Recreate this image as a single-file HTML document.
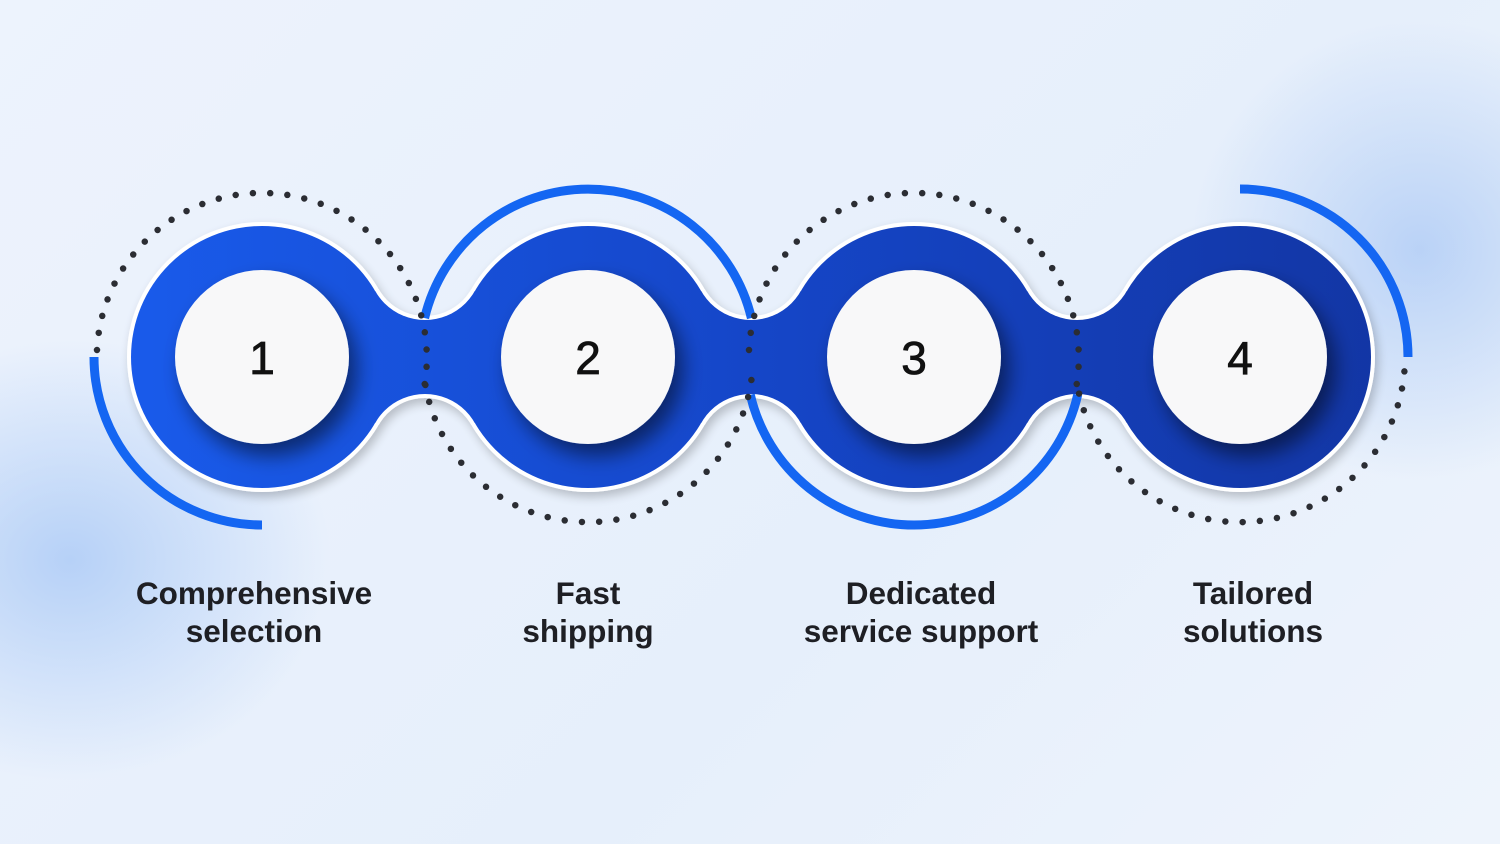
<!DOCTYPE html>
<html><head><meta charset="utf-8"><style>
html,body{margin:0;padding:0}
body{width:1500px;height:844px;overflow:hidden;background:#eaf2fc;position:relative;font-family:"Liberation Sans",sans-serif}
.bg{position:absolute;inset:0;background:
radial-gradient(ellipse 260px 220px at 70px 560px,rgba(160,195,245,.7),rgba(160,195,245,0)),
radial-gradient(ellipse 230px 230px at 1420px 250px,rgba(170,200,245,.75),rgba(170,200,245,0)),
linear-gradient(135deg,#edf3fd,#e6effb 60%,#eef4fc)}
.lbl{position:absolute;width:340px;margin-left:-170px;text-align:center;font-weight:bold;font-size:31.5px;line-height:38px;color:#1e1f24;top:574px}
</style></head><body>
<div class="bg"></div>
<svg width="1500" height="844" style="position:absolute;left:0;top:0">
<defs>
<linearGradient id="bl" x1="0" x2="1" y1="0" y2="0">
<stop offset="0" stop-color="#1a5ff2"/><stop offset="0.5" stop-color="#1546c8"/><stop offset="1" stop-color="#12339e"/>
</linearGradient>
<mask id="mw"><rect width="1500" height="844" fill="black"/>
<g fill="white"><circle cx="262" cy="357" r="135"/><circle cx="588" cy="357" r="135"/><circle cx="914" cy="357" r="135"/><circle cx="1240" cy="357" r="135"/><rect x="262" y="289" width="978" height="136"/></g>
<g fill="black">
<circle cx="425" cy="262.7" r="53.3"/><circle cx="425" cy="451.3" r="53.3"/>
<circle cx="751" cy="262.7" r="53.3"/><circle cx="751" cy="451.3" r="53.3"/>
<circle cx="1077" cy="262.7" r="53.3"/><circle cx="1077" cy="451.3" r="53.3"/></g></mask>
<mask id="mb"><rect width="1500" height="844" fill="black"/>
<g fill="white"><circle cx="262" cy="357" r="131"/><circle cx="588" cy="357" r="131"/><circle cx="914" cy="357" r="131"/><circle cx="1240" cy="357" r="131"/><rect x="262" y="291" width="978" height="132"/></g>
<g fill="black">
<circle cx="425" cy="262.7" r="57.3"/><circle cx="425" cy="451.3" r="57.3"/>
<circle cx="751" cy="262.7" r="57.3"/><circle cx="751" cy="451.3" r="57.3"/>
<circle cx="1077" cy="262.7" r="57.3"/><circle cx="1077" cy="451.3" r="57.3"/></g></mask>
<filter id="ds" x="-30%" y="-30%" width="160%" height="160%"><feGaussianBlur in="SourceAlpha" stdDeviation="5"/><feOffset dx="3" dy="5"/><feComponentTransfer><feFuncA type="linear" slope="0.22"/></feComponentTransfer><feMerge><feMergeNode/><feMergeNode in="SourceGraphic"/></feMerge></filter>
<filter id="ds2" x="-40%" y="-40%" width="180%" height="180%"><feGaussianBlur in="SourceAlpha" stdDeviation="10"/><feOffset dx="8" dy="12"/><feComponentTransfer><feFuncA type="linear" slope="0.5"/></feComponentTransfer><feMerge><feMergeNode/><feMergeNode in="SourceGraphic"/></feMerge></filter>
</defs>
<g filter="url(#ds)"><rect width="1500" height="844" fill="#ffffff" mask="url(#mw)"/></g>
<rect width="1500" height="844" fill="url(#bl)" mask="url(#mb)"/>
<g fill="#f8f8f9" filter="url(#ds2)"><circle cx="262" cy="357" r="87"/><circle cx="588" cy="357" r="87"/><circle cx="914" cy="357" r="87"/><circle cx="1240" cy="357" r="87"/></g>
<g fill="none" stroke="#1466f2" stroke-width="9">
<path d="M94 357 A168 168 0 0 0 262 525"/>
<path d="M424.6 318.1 A168 168 0 0 1 751.4 318.1"/>
<path d="M750.3 394.8 A168 168 0 0 0 1077.7 394.8"/>
<path d="M1240 189 A168 168 0 0 1 1408 357"/>
</g>
<g fill="none" stroke="#2b2d33" stroke-width="6.5" stroke-linecap="round" stroke-dasharray="0 17.3">
<path d="M97 350 A165 165 0 1 1 423.4 391.3"/>
<path d="M751.4 380 A165 165 0 0 1 424.6 380"/>
<path d="M749 350 A165 165 0 1 1 1075.4 391.3"/>
<path d="M1404.4 371.4 A165 165 0 0 1 1078.6 391.3"/>
</g>
<g font-family="Liberation Sans, sans-serif" font-size="46" fill="#111" stroke="#111" stroke-width="0.8" text-anchor="middle">
<text x="262" y="374">1</text><text x="588" y="374">2</text><text x="914" y="374">3</text><text x="1240" y="374">4</text>
</g>
</svg>
<div class="lbl" style="left:254px">Comprehensive<br>selection</div>
<div class="lbl" style="left:588px">Fast<br>shipping</div>
<div class="lbl" style="left:921px">Dedicated<br>service support</div>
<div class="lbl" style="left:1253px">Tailored<br>solutions</div>
</body></html>
